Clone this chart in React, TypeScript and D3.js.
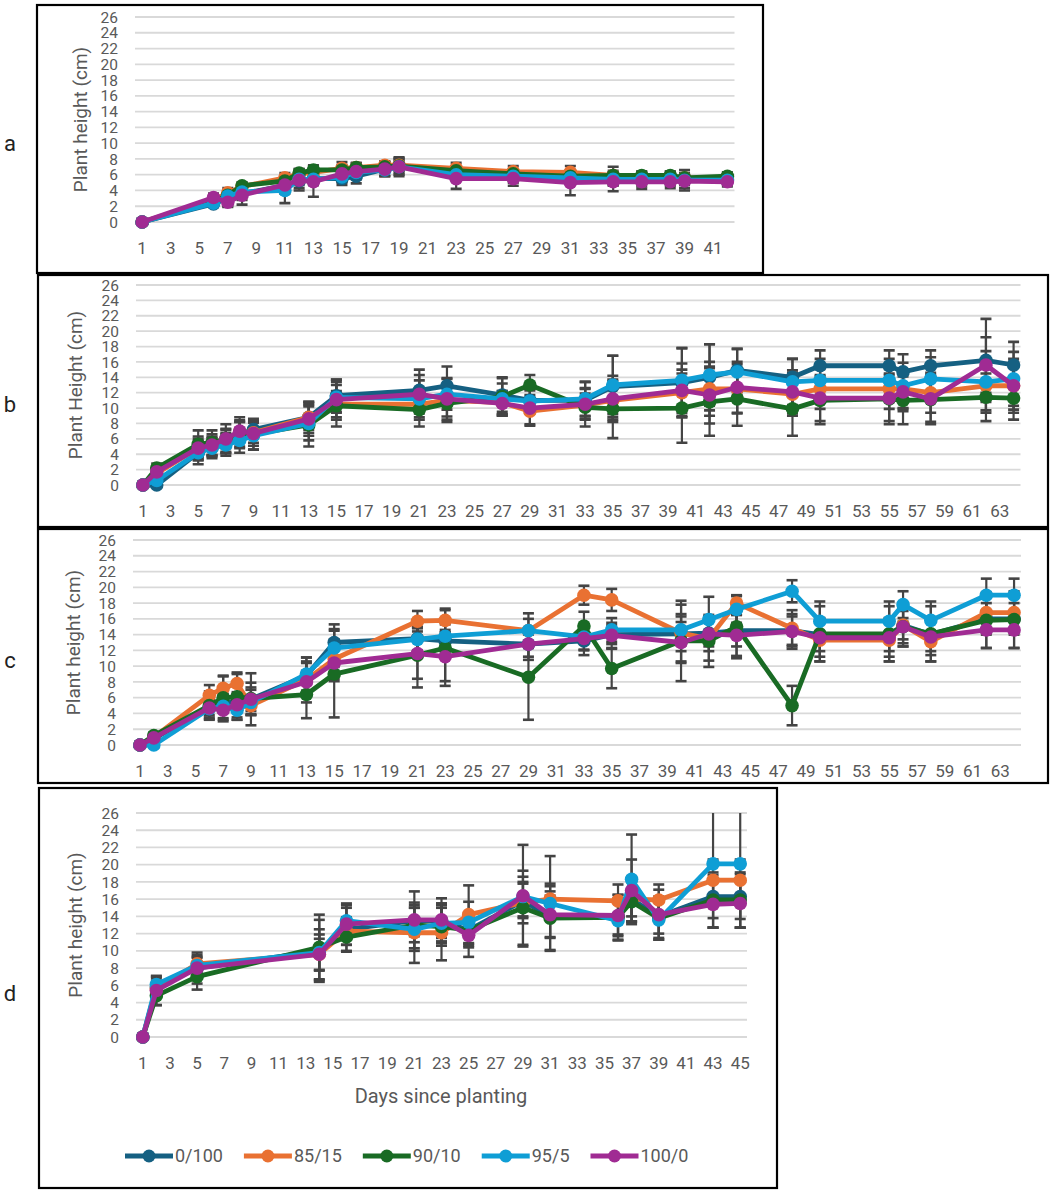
import { useEffect, useRef } from "react";
import * as d3 from "d3";

const seriesNames = ["0/100", "85/15", "90/10", "95/5", "100/0"];
const seriesColors = ["#156082", "#E97132", "#196B24", "#0F9ED5", "#A02B93"];

// panel a
const daysA = [1, 6, 7, 8, 11, 12, 13, 15, 16, 18, 19, 23, 27, 31, 34, 36, 38, 39, 42];
const a0_100 = [0, 2.3, 3.0, 3.6, 4.6, 5.2, 5.5, 5.5, 5.8, 6.7, 7.0, 6.2, 5.9, 5.6, 5.5, 5.4, 5.4, 5.3, 5.4];
const a85_15 = [0, 2.8, 3.7, 4.5, 5.6, 6.1, 6.3, 6.8, 6.9, 7.2, 7.2, 6.8, 6.4, 6.3, 5.9, 5.7, 5.7, 5.6, 5.6];
const a90_10 = [0, 2.6, 3.4, 4.6, 5.2, 6.2, 6.6, 6.6, 6.9, 7.0, 7.1, 6.5, 6.1, 5.8, 5.9, 5.9, 5.9, 5.6, 5.8];
const a95_5 = [0, 2.4, 3.3, 3.8, 4.0, 5.4, 5.4, 5.7, 6.3, 6.6, 7.0, 6.0, 5.8, 5.6, 5.4, 5.4, 5.4, 5.3, 5.3];
const a100_0 = [0, 3.1, 2.5, 3.4, 4.7, 5.3, 5.1, 6.1, 6.4, 6.7, 7.0, 5.5, 5.5, 5.0, 5.1, 5.1, 5.1, 5.2, 5.1];
const errA0_100 = [0, 0.4, 1.0, 0.8, 1.0, 0.9, 0.8, 0.8, 0.9, 0.9, 1.2, 0.8, 0.7, 0.7, 0.8, 0.9, 0.8, 1.3, 0.6];
const errA85_15 = [0, 0.5, 0.6, 0.5, 0.6, 0.6, 0.5, 0.8, 0.6, 0.5, 0.9, 0.7, 0.7, 0.8, 1.1, 0.7, 0.7, 0.6, 0.5];
const errA90_10 = [0, 0.4, 0.5, 0.4, 0.6, 0.5, 0.6, 0.6, 0.5, 0.6, 0.6, 0.6, 0.6, 0.6, 0.6, 0.5, 0.5, 0.5, 0.5];
const errA95_5 = [0, 0.4, 0.6, 0.6, 1.6, 0.7, 0.7, 0.7, 0.8, 0.7, 0.9, 0.8, 0.8, 0.9, 0.8, 0.6, 0.6, 0.6, 0.5];
const errA100_0 = [0, 0.5, 0.6, 1.2, 0.8, 1.3, 1.9, 1.0, 1.0, 0.9, 1.0, 1.3, 0.9, 1.6, 1.2, 0.9, 0.8, 0.9, 0.6];

// panel b
const daysB = [1, 2, 5, 6, 7, 8, 9, 13, 15, 21, 23, 27, 29, 33, 35, 40, 42, 44, 48, 50, 55, 56, 58, 62, 64];
const b0_100 = [0, 0, 4.2, 4.9, 5.5, 6.6, 7.2, 8.8, 11.6, 12.3, 12.9, 11.7, 11.0, 11.0, 12.8, 13.3, 14.0, 14.9, 14.0, 15.5, 15.5, 14.7, 15.5, 16.2, 15.6];
const b85_15 = [0, 1.5, 4.8, 5.1, 5.8, 6.9, 6.8, 8.8, 10.5, 10.5, 11.0, 10.7, 9.6, 10.4, 11.0, 12.0, 12.5, 12.5, 11.8, 12.5, 12.5, 12.5, 12.0, 12.9, 12.9];
const b90_10 = [0, 2.2, 5.3, 5.5, 6.0, 6.8, 6.6, 7.8, 10.3, 9.8, 10.6, 11.5, 13.0, 10.1, 9.9, 10.0, 10.8, 11.2, 9.9, 11.0, 11.2, 11.0, 11.1, 11.4, 11.3];
const b95_5 = [0, 0.6, 4.2, 4.8, 5.2, 5.8, 6.4, 8.0, 11.4, 11.2, 11.8, 11.2, 10.9, 11.2, 13.0, 13.6, 14.3, 14.7, 13.4, 13.6, 13.6, 12.9, 13.8, 13.4, 13.8];
const b100_0 = [0, 1.7, 4.8, 5.2, 6.0, 7.0, 6.7, 8.6, 11.1, 11.8, 11.2, 10.6, 10.0, 10.5, 11.2, 12.3, 11.7, 12.7, 12.1, 11.3, 11.3, 12.1, 11.2, 15.6, 12.9];
const errB0_100 = [0, 0, 1.0, 1.2, 1.3, 1.6, 1.1, 2.0, 2.1, 2.7, 2.5, 2.2, 1.5, 2.4, 4.0, 4.5, 4.3, 2.8, 2.4, 2.0, 2.0, 2.3, 2.0, 5.4, 3.0];
const errB85_15 = [0, 0.5, 1.2, 1.2, 1.5, 1.3, 1.3, 1.6, 1.7, 2.0, 2.1, 1.5, 1.7, 1.5, 2.5, 3.0, 3.5, 3.2, 2.8, 2.6, 2.6, 2.5, 2.6, 3.2, 3.1];
const errB90_10 = [0, 0.6, 1.8, 1.6, 1.9, 2.0, 2.0, 2.8, 2.7, 2.2, 2.4, 2.5, 1.3, 2.5, 3.8, 4.5, 4.4, 3.5, 3.5, 3.1, 3.3, 3.1, 3.2, 3.1, 2.8];
const errB95_5 = [0, 0.5, 1.5, 1.3, 1.4, 1.6, 1.8, 2.2, 2.0, 2.4, 2.0, 2.0, 1.6, 2.2, 3.8, 4.2, 4.0, 3.0, 3.0, 2.8, 2.8, 3.0, 2.8, 4.0, 3.5];
const errB100_0 = [0, 0.6, 1.5, 1.4, 1.2, 1.4, 1.6, 2.2, 2.6, 2.5, 2.7, 1.6, 2.3, 2.0, 3.0, 3.5, 3.7, 3.3, 2.8, 3.0, 3.0, 2.5, 3.0, 3.6, 3.5];

// panel c
const daysC = [1, 2, 6, 7, 8, 9, 13, 15, 21, 23, 29, 33, 35, 40, 42, 44, 48, 50, 55, 56, 58, 62, 64];
const c0_100 = [0, 0.8, 4.8, 5.3, 5.5, 5.8, 8.8, 13.0, 13.5, 13.2, 12.8, 13.2, 14.0, 14.1, 14.2, 14.5, 14.5, 14.0, 14.0, 15.2, 14.0, 16.0, 16.0];
const c85_15 = [0, 1.0, 6.3, 7.2, 7.8, 5.0, 8.3, 10.9, 15.7, 15.8, 14.5, 19.0, 18.4, 14.2, 13.5, 18.0, 14.8, 13.3, 13.3, 15.2, 13.1, 16.8, 16.8];
const c90_10 = [0, 1.2, 5.0, 6.0, 6.1, 5.9, 6.4, 9.0, 11.4, 12.3, 8.6, 15.1, 9.7, 13.2, 13.2, 15.0, 5.0, 14.1, 14.1, 15.0, 14.1, 15.8, 15.9];
const c95_5 = [0, 0, 4.6, 4.9, 4.4, 5.4, 9.0, 12.3, 13.4, 13.8, 14.5, 13.7, 14.6, 14.6, 15.9, 17.2, 19.5, 15.7, 15.7, 17.8, 15.8, 19.0, 19.0];
const c100_0 = [0, 0.9, 4.7, 4.4, 5.1, 5.8, 8.0, 10.4, 11.6, 11.2, 12.8, 13.5, 13.9, 13.0, 14.1, 13.9, 14.4, 13.6, 13.6, 15.0, 13.7, 14.6, 14.6];
const errC0_100 = [0, 0.3, 1.0, 1.2, 1.0, 1.5, 2.3, 2.3, 1.5, 1.4, 1.6, 1.8, 1.2, 2.2, 1.7, 2.0, 1.8, 2.1, 2.1, 1.8, 2.1, 2.0, 2.0];
const errC85_15 = [0, 0.4, 1.3, 1.5, 1.4, 1.2, 2.1, 2.5, 1.3, 1.5, 2.2, 1.2, 1.4, 3.6, 2.8, 0.9, 2.3, 2.7, 2.7, 2.3, 2.5, 2.5, 2.5];
const errC90_10 = [0, 0.4, 1.8, 2.8, 2.9, 2.0, 3.0, 5.5, 4.1, 4.8, 5.4, 1.8, 2.5, 5.1, 3.3, 4.0, 2.5, 3.5, 3.5, 2.5, 3.5, 3.5, 3.6];
const errC95_5 = [0, 0.3, 1.3, 1.5, 1.2, 1.6, 2.1, 2.4, 1.5, 1.5, 1.5, 1.6, 1.5, 2.0, 2.9, 1.7, 1.4, 2.5, 2.5, 1.7, 2.4, 2.1, 2.1];
const errC100_0 = [0, 0.4, 1.2, 1.4, 1.6, 3.3, 2.6, 2.3, 3.2, 3.1, 2.0, 1.5, 1.6, 2.6, 2.2, 2.6, 2.2, 2.4, 2.4, 2.5, 2.3, 2.3, 2.3];

// panel d
const daysD = [1, 2, 5, 14, 16, 21, 23, 25, 29, 31, 36, 37, 39, 43, 45];
const d0_100 = [0, 5.8, 8.0, 10.0, 12.5, 13.5, 13.5, 12.4, 15.8, 14.0, 14.0, 16.0, 14.0, 16.3, 16.3];
const d85_15 = [0, 5.6, 8.5, 9.6, 12.3, 12.1, 12.1, 14.2, 15.6, 16.0, 15.8, 16.0, 15.9, 18.2, 18.2];
const d90_10 = [0, 4.8, 7.0, 10.4, 11.6, 13.0, 12.8, 12.4, 15.0, 13.8, 13.9, 15.7, 13.8, 15.9, 15.9];
const d95_5 = [0, 6.1, 8.3, 9.8, 13.5, 12.5, 13.2, 13.3, 16.3, 15.5, 13.5, 18.3, 13.6, 20.1, 20.1];
const d100_0 = [0, 5.4, 8.0, 9.6, 13.1, 13.6, 13.6, 11.8, 16.4, 14.2, 14.1, 17.0, 14.2, 15.4, 15.5];
const errD0_100 = [0, 1.0, 1.2, 3.6, 2.5, 1.8, 2.0, 2.0, 2.0, 2.4, 2.1, 2.6, 2.0, 2.5, 2.6];
const errD85_15 = [0, 0.9, 1.0, 1.8, 1.6, 3.5, 3.2, 3.4, 2.4, 1.8, 1.9, 2.0, 1.8, 2.4, 2.4];
const errD90_10 = [0, 1.1, 1.5, 3.8, 1.7, 2.0, 2.2, 1.8, 4.3, 3.7, 2.6, 2.3, 2.5, 3.2, 3.2];
const errD95_5 = [0, 0.9, 1.0, 2.1, 1.8, 2.5, 2.3, 2.4, 2.3, 5.5, 2.3, 5.2, 2.1, 7.4, 7.4];
const errD100_0 = [0, 1.7, 1.8, 2.9, 2.4, 3.3, 2.5, 2.5, 5.9, 2.7, 2.4, 3.6, 2.9, 2.7, 2.8];

const yTicks = d3.range(0, 27, 2);

const panels = [
  {
    letter: "a", yTitle: "Plant height (cm)", days: daysA, maxDay: 42, lastTick: 41,
    values: [a0_100, a85_15, a90_10, a95_5, a100_0],
    errors: [errA0_100, errA85_15, errA90_10, errA95_5, errA100_0],
    box: { x0: 37, y0: 5, x1: 763, y1: 273 }, plot: { left: 135, right: 734.5, top: 17, bottom: 222 },
    titleX: 80, letterY: 143,
  },
  {
    letter: "b", yTitle: "Plant Height (cm)", days: daysB, maxDay: 64, lastTick: 63,
    values: [b0_100, b85_15, b90_10, b95_5, b100_0],
    errors: [errB0_100, errB85_15, errB90_10, errB95_5, errB100_0],
    box: { x0: 38, y0: 275, x1: 1048, y1: 527 }, plot: { left: 136, right: 1020.5, top: 285, bottom: 485 },
    titleX: 75, letterY: 404,
  },
  {
    letter: "c", yTitle: "Plant height (cm)", days: daysC, maxDay: 64, lastTick: 63,
    values: [c0_100, c85_15, c90_10, c95_5, c100_0],
    errors: [errC0_100, errC85_15, errC90_10, errC95_5, errC100_0],
    box: { x0: 38, y0: 529, x1: 1048, y1: 783 }, plot: { left: 133, right: 1021, top: 540, bottom: 745 },
    titleX: 73, letterY: 660,
  },
  {
    letter: "d", yTitle: "Plant height (cm)", days: daysD, maxDay: 45, lastTick: 45,
    values: [d0_100, d85_15, d90_10, d95_5, d100_0],
    errors: [errD0_100, errD85_15, errD90_10, errD95_5, errD100_0],
    box: { x0: 39, y0: 788, x1: 777, y1: 1188 }, plot: { left: 136, right: 747, top: 813, bottom: 1037 },
    titleX: 75, letterY: 993,
  },
];

const font = "Roboto, 'Liberation Sans', sans-serif";
const textGrey = "#595959";

export default function App() {
  const svgRef = useRef<SVGSVGElement | null>(null);

  useEffect(() => {
    const svg = d3.select(svgRef.current);
    svg.selectAll("*").remove();
    svg.append("rect").attr("width", 1059).attr("height", 1195).attr("fill", "#fff");

    panels.forEach((p, pi) => {
      const g = svg.append("g");
      const x = d3.scaleLinear().domain([0.5, p.maxDay + 0.5]).range([p.plot.left, p.plot.right]);
      const y = d3.scaleLinear().domain([0, 26]).range([p.plot.bottom, p.plot.top]);

      g.append("rect")
        .attr("x", p.box.x0)
        .attr("y", p.box.y0)
        .attr("width", p.box.x1 - p.box.x0)
        .attr("height", p.box.y1 - p.box.y0)
        .attr("fill", "#fff")
        .attr("stroke", "#000")
        .attr("stroke-width", 2.2);

      g.append("text")
        .attr("x", 10)
        .attr("y", p.letterY)
        .attr("dy", "0.35em")
        .attr("text-anchor", "middle")
        .attr("font-family", font)
        .attr("font-size", 22)
        .attr("fill", "#222")
        .text(p.letter);

      g.selectAll(".grid")
        .data(yTicks)
        .enter()
        .append("line")
        .attr("x1", p.plot.left)
        .attr("x2", p.plot.right)
        .attr("y1", (d) => y(d))
        .attr("y2", (d) => y(d))
        .attr("stroke", "#d9d9d9")
        .attr("stroke-width", 1.8);

      // tick labels sit close together, as in the source figure
      g.selectAll(".ytick")
        .data(yTicks)
        .enter()
        .append("text")
        .attr("x", p.plot.left - 17)
        .attr("y", (d) => y(d))
        .attr("dy", "0.36em")
        .attr("text-anchor", "end")
        .attr("font-family", font)
        .attr("font-size", 15.5)
        .attr("fill", textGrey)
        .text((d) => d);

      g.selectAll(".xtick")
        .data(d3.range(1, p.lastTick + 1, 2))
        .enter()
        .append("text")
        .attr("x", (d) => x(d))
        .attr("y", p.plot.bottom + 26)
        .attr("dy", "0.36em")
        .attr("text-anchor", "middle")
        .attr("font-family", font)
        .attr("font-size", 17)
        .attr("fill", textGrey)
        .text((d) => d);

      const midY = (p.plot.top + p.plot.bottom) / 2;
      g.append("text")
        .attr("transform", `translate(${p.titleX},${midY}) rotate(-90)`)
        .attr("dy", "0.35em")
        .attr("text-anchor", "middle")
        .attr("font-family", font)
        .attr("font-size", 19)
        .attr("fill", textGrey)
        .text(p.yTitle);

      const clipId = `clip-${pi}`;
      g.append("clipPath")
        .attr("id", clipId)
        .append("rect")
        .attr("x", p.plot.left - 20)
        .attr("y", p.plot.top)
        .attr("width", p.plot.right - p.plot.left + 40)
        .attr("height", p.plot.bottom - p.plot.top + 20);

      // error bars
      const eg = g.append("g").attr("clip-path", `url(#${clipId})`);
      p.values.forEach((vals, si) => {
        const errs = p.errors[si];
        const pts = p.days
          .map((d, i) => ({ day: d, v: vals[i], e: errs[i] }))
          .filter((o) => o.e > 0);
        const bars = eg.selectAll(`.err${si}`).data(pts).enter().append("g");
        bars
          .append("line")
          .attr("x1", (o) => x(o.day))
          .attr("x2", (o) => x(o.day))
          .attr("y1", (o) => y(o.v - o.e))
          .attr("y2", (o) => y(o.v + o.e))
          .attr("stroke", "#444")
          .attr("stroke-width", 2.2);
        [-1, 1].forEach((sgn) => {
          bars
            .append("line")
            .attr("x1", (o) => x(o.day) - 5.5)
            .attr("x2", (o) => x(o.day) + 5.5)
            .attr("y1", (o) => y(o.v + sgn * o.e))
            .attr("y2", (o) => y(o.v + sgn * o.e))
            .attr("stroke", "#444")
            .attr("stroke-width", 2.6);
        });
      });

      // series lines and markers
      p.values.forEach((vals, si) => {
        const pts = p.days.map((d, i) => ({ day: d, v: vals[i] }));
        const line = d3
          .line<{ day: number; v: number }>()
          .x((o) => x(o.day))
          .y((o) => y(o.v));
        g.append("path")
          .datum(pts)
          .attr("d", line)
          .attr("fill", "none")
          .attr("stroke", seriesColors[si])
          .attr("stroke-width", 4.8)
          .attr("stroke-linejoin", "round");
        g.selectAll(`.mk${si}`)
          .data(pts)
          .enter()
          .append("circle")
          .attr("cx", (o) => x(o.day))
          .attr("cy", (o) => y(o.v))
          .attr("r", 6.8)
          .attr("fill", seriesColors[si]);
      });
    });

    // x axis title and legend inside panel d
    svg
      .append("text")
      .attr("x", 441)
      .attr("y", 1096)
      .attr("dy", "0.35em")
      .attr("text-anchor", "middle")
      .attr("font-family", font)
      .attr("font-size", 20)
      .attr("fill", textGrey)
      .text("Days since planting");

    const legY = 1156;
    let lx = 125;
    seriesNames.forEach((name, si) => {
      const lg = svg.append("g");
      lg.append("line")
        .attr("x1", lx)
        .attr("x2", lx + 48)
        .attr("y1", legY)
        .attr("y2", legY)
        .attr("stroke", seriesColors[si])
        .attr("stroke-width", 5);
      lg.append("circle")
        .attr("cx", lx + 24)
        .attr("cy", legY)
        .attr("r", 6.5)
        .attr("fill", seriesColors[si]);
      const t = lg
        .append("text")
        .attr("x", lx + 50)
        .attr("y", legY)
        .attr("dy", "0.36em")
        .attr("font-family", font)
        .attr("font-size", 18)
        .attr("fill", textGrey)
        .text(name);
      const w = (t.node() as SVGTextElement).getComputedTextLength();
      lx += 50 + w + 21;
    });
  }, []);

  return (
    <svg
      ref={svgRef}
      width={1059}
      height={1195}
      style={{ position: "absolute", left: 0, top: 0 }}
    ></svg>
  );
}
